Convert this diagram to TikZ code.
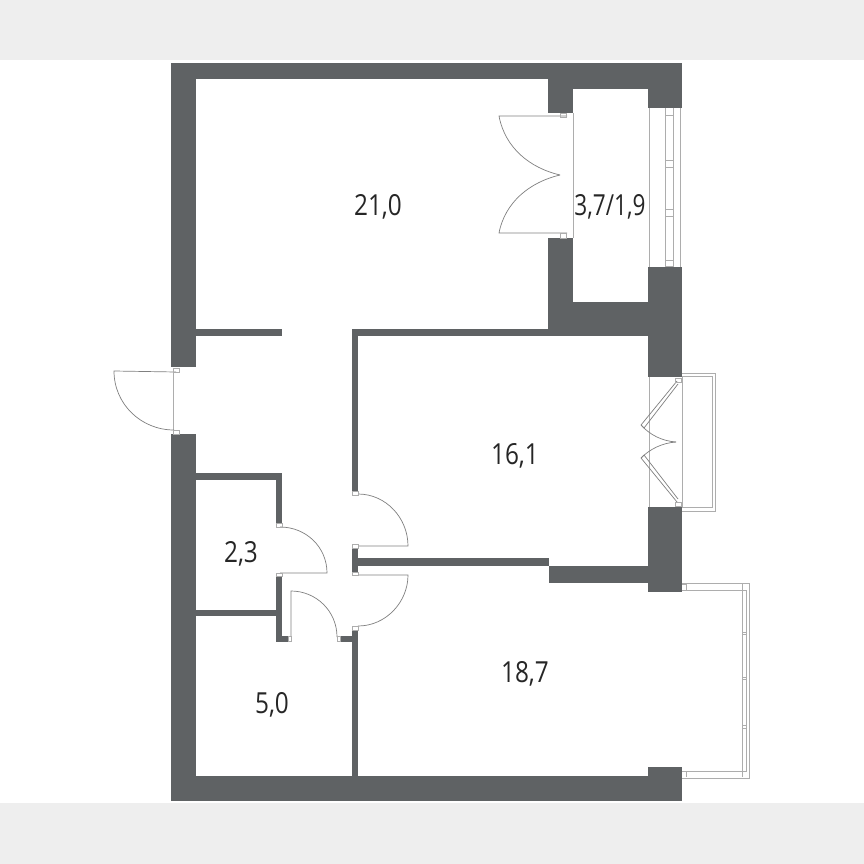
\documentclass[tikz,border=0pt]{standalone}
\usepackage{fontspec}
\setmainfont{Open Sans}
\usepackage{tikz}
\usetikzlibrary{positioning}
\definecolor{wallgray}{HTML}{5F6264}
\definecolor{bandgray}{HTML}{EEEEEE}
\newcommand{\areatext}[2][.84]{\scalebox{#1}[1]{#2}}
\tikzset{
  wall/.style={fill=wallgray,draw=none},
  thinline/.style={draw=black!32,line width=0.7pt},
  leaf/.style={draw=black!50,line width=0.7pt},
  area/.style={anchor=base,font=\fontsize{29}{32}\selectfont,text=black!85,inner sep=0pt}
}
\begin{document}
\begin{tikzpicture}[x=1pt,y=-1pt]
\useasboundingbox (0,0) rectangle (864,864);
\fill[white] (0,0) rectangle (864,864);
\fill[bandgray] (0,0) rectangle (864,60);
\fill[bandgray] (0,803) rectangle (864,864);
% walls
\foreach \xa/\ya/\xb/\yb in {171/63/196/367,171/434/196/801,171/63/682/79,171/776/682/801,
  548/79/573/113,573/63/682/89,648/89/682/108,548/238/573/330,573/302/682/330,648/267/682/377,
  352/329/648/336,352/329/358/491,196/329/282/336,648/507/682/592,549/566/648/583,
  358/558/549/566,352/548/358/572,648/767/682/776,
  196/473/282/480,276/473/282/523,276/576/282/642,196/610/276/616,276/636/288/642,
  340/636/358/642,352/630/358/776}
  \fill[wall] (\xa,\ya) rectangle (\xb,\yb);
% window of the loggia
\draw[thinline] (573,113)--(573,238);
\draw[thinline] (649,108)--(649,267);
\draw[thinline] (665,108)--(665,267);
\draw[thinline] (673,108)--(673,267);
\draw[thinline] (680,108)--(680,267);
\foreach \ya in {115,160,167,209,216,260,266}
  \draw[thinline] (665,\ya)--(673,\ya);
% loggia door
\draw[leaf] (567,116)--(499,116) .. controls (505,148) and (530,168) .. (560,175);
\draw[leaf] (567,233)--(499,233) .. controls (505,202) and (530,182) .. (560,175);
\draw[thinline] (560,113) rectangle (566,117);
\draw[thinline] (560,233) rectangle (566,238);
% balcony of the middle room
\draw[thinline] (682,373)--(715,373)--(715,511)--(682,511);
\draw[thinline] (682,376)--(712,376)--(712,507)--(682,507);
\draw[thinline] (649,377)--(649,507);
\draw[thinline] (682,377)--(682,507);
\draw[leaf] (677,381)--(641,425)--(644,428)--(678,384);
\draw[leaf] (677,502)--(641,458)--(644,455)--(678,499);
\draw[leaf] (641,425) .. controls (650,435) and (662,441) .. (676,442);
\draw[leaf] (641,458) .. controls (650,449) and (662,443) .. (676,442);
\draw[thinline] (675,378) rectangle (681,382);
\draw[thinline] (675,502) rectangle (681,506);
% corner balcony
\draw[thinline] (682,583)--(749,583)--(749,778)--(682,778);
\draw[thinline] (682,590)--(746,590)--(746,771)--(682,771);
\draw[thinline] (742,584)--(742,777);
\draw[thinline] (682,584)--(686,584)--(686,590);
\draw[thinline] (682,771)--(686,771)--(686,777);
\foreach \ya in {632,634,677,679,725,728}
  \draw[thinline] (742,\ya)--(747,\ya);
% entrance door
\draw[thinline] (173,370)--(173,432);
\draw[leaf] (176,372)--(114,371) .. controls (114,404) and (141,430) .. (174,430);
\draw[thinline] (173,368) rectangle (179,372);
\draw[thinline] (173,430) rectangle (179,434);
% inner doors
\draw[leaf] (280,527) .. controls (306,527) and (327,547) .. (327,573) -- (280,573);
\draw[thinline] (276,523) rectangle (282,527);
\draw[thinline] (276,573) rectangle (282,576);
\draw[leaf] (291,636)--(291,591) .. controls (316,591) and (337,611) .. (337,637);
\draw[thinline] (288,636) rectangle (291,641);
\draw[thinline] (337,636) rectangle (340,641);
\draw[leaf] (358,494) .. controls (386,494) and (408,518) .. (408,546) -- (358,546);
\draw[thinline] (352,491) rectangle (358,495);
\draw[thinline] (352,544) rectangle (358,548);
\draw[leaf] (358,575)--(408,575) .. controls (408,602) and (386,626) .. (358,626);
\draw[thinline] (352,572) rectangle (358,575);
\draw[thinline] (352,626) rectangle (358,630);
% areas
\node[area] (living) at (378,215) {\areatext{21,0}};
\node[area] (loggia) at (610,215) {\areatext[.78]{3,7/1,9}};
\node[area] (middle) at (515,464) {\areatext{16,1}};
\node[area] (closet) at (241,562) {\areatext{2,3}};
\node[area] (corner) at (525,682) {\areatext{18,7}};
\node[area] (bath) at (272,713) {\areatext{5,0}};
\end{tikzpicture}
\end{document}
